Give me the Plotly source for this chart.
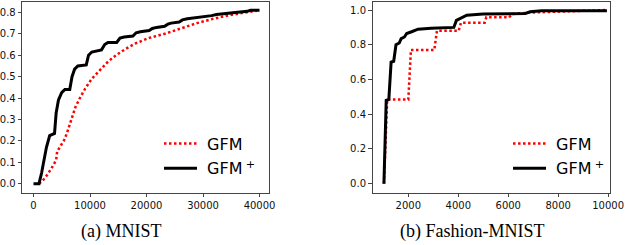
import plotly.graph_objects as go

# (a) MNIST
mnist_gfmp_x = [0, 974, 1433, 1891, 2292, 2865, 3725, 4011, 4412, 4985, 5558, 6418, 6819, 7277, 7850,
                9340, 9741, 10314, 11174, 12033, 12606, 13179, 14726, 15299, 16044, 17591, 18164, 18909,
                20456, 21029, 21774, 23207, 23780, 24352, 25785, 26358, 27218, 28937, 29624, 31515,
                32375, 34667, 35354, 37818, 38391, 40000]
mnist_gfmp_y = [0, 0, 0.05, 0.12, 0.17, 0.225, 0.235, 0.33, 0.39, 0.425, 0.44, 0.44, 0.50, 0.535, 0.55,
                0.555, 0.60, 0.615, 0.62, 0.625, 0.65, 0.66, 0.66, 0.68, 0.685, 0.69, 0.705, 0.71,
                0.715, 0.725, 0.73, 0.735, 0.745, 0.75, 0.755, 0.765, 0.77, 0.775, 0.78, 0.785,
                0.79, 0.795, 0.80, 0.805, 0.81, 0.81]
mnist_gfm_x = [1000, 2006, 3152, 4011, 4183, 5157, 5450, 5902, 6303, 6876, 7449, 8309, 9168, 10314,
               11747, 13179, 14612, 16331, 18050, 20342, 23207, 26072, 28937, 31802, 34667, 37532, 39538]
mnist_gfm_y = [0, 0.025, 0.07, 0.11, 0.15, 0.19, 0.205, 0.235, 0.27, 0.31, 0.36, 0.405, 0.445, 0.49,
               0.53, 0.57, 0.60, 0.63, 0.655, 0.68, 0.70, 0.725, 0.75, 0.77, 0.787, 0.80, 0.808]

# (b) Fashion-MNIST
fm_gfmp_x = [1024, 1115, 1220, 1311, 1415, 1506, 1636, 1714, 1844, 1935, 2130, 2390, 2910, 3821, 3925,
             4081, 4341, 4992, 6033, 6683, 6878, 7333, 9950]
fm_gfmp_y = [0, 0.48, 0.485, 0.70, 0.705, 0.80, 0.81, 0.835, 0.845, 0.865, 0.875, 0.89, 0.895, 0.90,
             0.94, 0.952, 0.97, 0.977, 0.977, 0.98, 0.99, 0.996, 0.996]
fm_gfm_x = [1024, 1155, 2000, 2104, 3041, 3145, 4016, 4107, 5057, 5122, 6033, 6163, 6813, 8114, 9935]
fm_gfm_y = [0, 0.485, 0.485, 0.77, 0.77, 0.88, 0.88, 0.927, 0.927, 0.958, 0.958, 0.977, 0.985, 0.99, 1.0]

captions = ["(a) MNIST", "(b) Fashion-MNIST"]
names = ["\u00a0GFM", "\u00a0GFM\u2009<sup>+</sup>"]

RED_DOT = dict(color="#ff0000", width=2.5, dash="2.5px,2.5px")
BLACK = dict(color="black", width=3)

fig = go.Figure()
fig.add_trace(go.Scatter(x=mnist_gfm_x, y=mnist_gfm_y, mode="lines", line=RED_DOT, name=names[0],
                         xaxis="x", yaxis="y", legend="legend", legendgroup="a1"))
fig.add_trace(go.Scatter(x=mnist_gfmp_x, y=mnist_gfmp_y, mode="lines", line=BLACK, name=names[1],
                         xaxis="x", yaxis="y", legend="legend", legendgroup="a2"))
fig.add_trace(go.Scatter(x=fm_gfm_x, y=fm_gfm_y, mode="lines", line=RED_DOT, name=names[0],
                         xaxis="x2", yaxis="y2", legend="legend2", legendgroup="b1"))
fig.add_trace(go.Scatter(x=fm_gfmp_x, y=fm_gfmp_y, mode="lines", line=BLACK, name=names[1],
                         xaxis="x2", yaxis="y2", legend="legend2", legendgroup="b2"))

W, H = 640, 245
ydom = [(245 - 192.7) / H, (245 - 1.7) / H]
axis_common = dict(showline=True, mirror=True, linecolor="#444", linewidth=1, ticks="outside",
                   ticklen=3.5, tickwidth=1, tickcolor="#444", showgrid=False, zeroline=False,
                   tickfont=dict(family="DejaVu Sans", size=10, color="#111"))

legend_common = dict(font=dict(family="DejaVu Sans", size=16, color="black"), bgcolor="rgba(0,0,0,0)",
                     traceorder="grouped", tracegroupgap=1, itemwidth=33, xanchor="left", yanchor="middle")

cap_font = dict(family="Liberation Serif", size=18, color="black")

fig.update_layout(
    width=W, height=H, margin=dict(l=0, r=0, t=0, b=0),
    plot_bgcolor="white", paper_bgcolor="white",
    xaxis=dict(domain=[20.7 / W, 274 / W], range=[-2000, 41700], tickvals=[0, 10000, 20000, 30000, 40000],
               ticktext=["0", "10000", "20000", "30000", "40000"], anchor="y", **axis_common),
    yaxis=dict(domain=ydom, range=[-0.042, 0.85], tickvals=[0, 0.1, 0.2, 0.3, 0.4, 0.5, 0.6, 0.7, 0.8],
               ticktext=["0.0", "0.1", "0.2", "0.3", "0.4", "0.5", "0.6", "0.7", "0.8"], anchor="x", **axis_common),
    xaxis2=dict(domain=[380 / W, 624 / W], range=[566, 10090], tickvals=[2000, 4000, 6000, 8000, 10000],
                ticktext=["2000", "4000", "6000", "8000", "10000"], anchor="y2", **axis_common),
    yaxis2=dict(domain=ydom, range=[-0.052, 1.048], tickvals=[0, 0.2, 0.4, 0.6, 0.8, 1.0],
                ticktext=["0.0", "0.2", "0.4", "0.6", "0.8", "1.0"], anchor="x2", **axis_common),
    legend=dict(x=161 / W, y=1 - 156 / H, **legend_common),
    legend2=dict(x=519 / W, y=1 - 156 / H, **legend_common),
    annotations=[
        dict(text=captions[0], x=122 / W, y=1 - 231 / H, xref="paper", yref="paper", showarrow=False,
             xanchor="center", yanchor="middle", font=cap_font),
        dict(text=captions[1], x=483 / W, y=1 - 231 / H, xref="paper", yref="paper", showarrow=False,
             xanchor="center", yanchor="middle", font=cap_font),
    ],
)

fig.write_html("out.html", config={"displayModeBar": False},
               post_script="document.body.style.margin='0';document.body.style.padding='0';")
